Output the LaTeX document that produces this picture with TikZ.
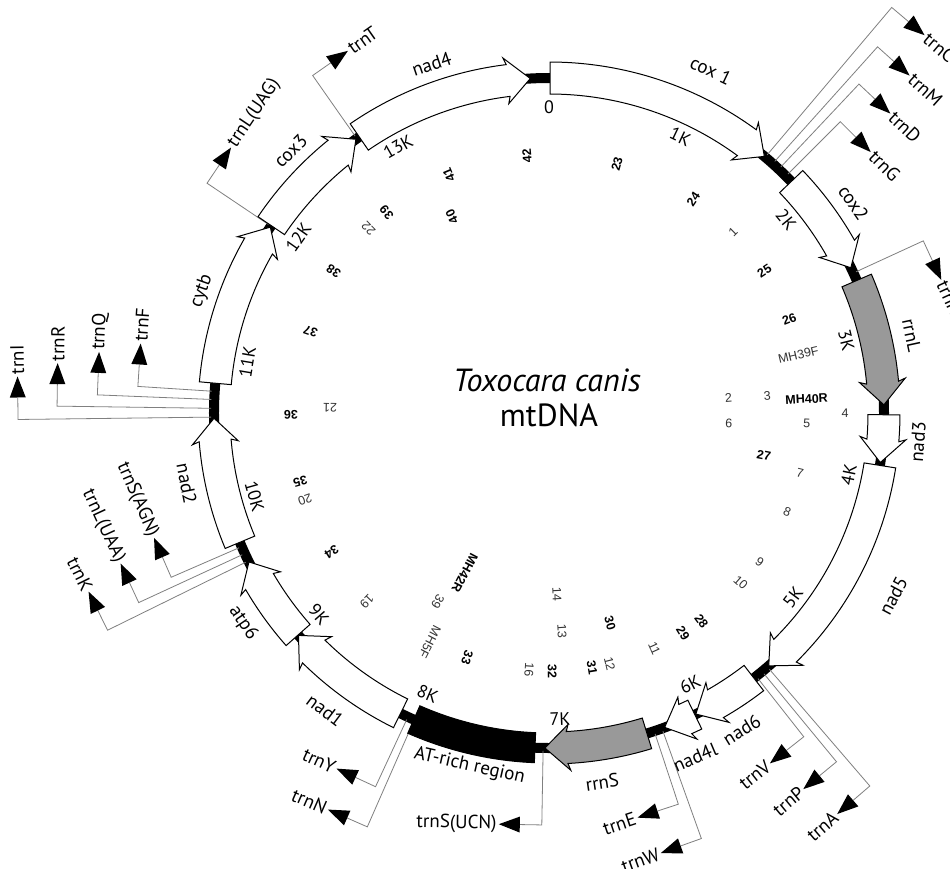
\documentclass[tikz,border=0pt]{standalone}
\usepackage{fontspec}
\setmainfont{PT Sans}
\newfontfamily\numfont{Liberation Sans}
\usetikzlibrary{calc}

\tikzset{
  genebox/.style={draw=black, line width=1pt, fill=white, line join=miter},
  rrnabox/.style={genebox, fill=gray!80},
  atbox/.style={draw=black, line width=1pt, fill=black},
  trnaline/.style={draw=black!50, line width=0.8pt},
  genelab/.style={font=\fontsize{19}{21}\selectfont, inner sep=0pt},
  klab/.style={font=\fontsize{18}{20}\selectfont, inner sep=0pt},
  numreg/.style={font=\numfont\fontsize{12.5}{14}\selectfont, inner sep=0pt, text=black!80},
  numbold/.style={font=\numfont\bfseries\fontsize{12.5}{14}\selectfont, inner sep=0pt},
  titlelab/.style={font=\fontsize{32}{36}\selectfont, inner sep=0pt},
}

% gene arrow: name, theta start, theta end, style
\newcommand{\gene}[4]{%
  \pgfmathsetmacro{\gps}{90-#2}%
  \pgfmathsetmacro{\gpe}{90-#3}%
  \pgfmathsetmacro{\gph}{\gpe+3.8}%
  \draw[#4] (\gps:351) coordinate (#1-s)
     arc[start angle=\gps, end angle=\gph, radius=351]
     -- ({\gph+0.4}:358) -- (\gpe:335) coordinate (#1-e)
     -- ({\gph+0.4}:312) -- (\gph:319)
     arc[start angle=\gph, end angle=\gps, radius=319] -- cycle;
}
% plain block: name, theta start, theta end, style
\newcommand{\block}[4]{%
  \pgfmathsetmacro{\gps}{90-#2}%
  \pgfmathsetmacro{\gpe}{90-#3}%
  \draw[#4] (\gps:350) coordinate (#1-s)
     arc[start angle=\gps, end angle=\gpe, radius=350]
     -- (\gpe:320) coordinate (#1-e)
     arc[start angle=\gpe, end angle=\gps, radius=320] -- cycle;
}
% tRNA marker: name, theta, radius, label
\newcommand{\trna}[4]{%
  \pgfmathsetmacro{\tph}{90-#2}%
  \pgfmathsetmacro{\tdir}{\tph-90}%
  \pgfmathsetmacro{\trot}{mod(\tph+630,360)}%
  \pgfmathtruncatemacro{\tflip}{and(\trot>91,\trot<269) ? 1 : 0}%
  \pgfmathsetmacro{\trotf}{\tflip==1 ? \trot-180 : \trot}%
  \coordinate (#1-a) at (\tph:338);
  \coordinate (#1-c) at (\tph:#3);
  \coordinate (#1-b) at ($(#1-c)+(\tdir:22)$);
  \coordinate (#1-t) at ($(#1-c)+(\tdir:43)$);
  \draw[trnaline] (#1-a) -- (#1-c) -- (#1-b);
  \fill[black] ($(#1-b)+(\tph:8)$) -- ($(#1-b)+(\tph:-8)$) -- (#1-t) -- cycle;
  \ifnum\tflip=1
    \node[genelab, anchor=east, rotate=\trotf] (#1) at ($(#1-t)+(\tdir:2)$) {#4};
  \else
    \node[genelab, anchor=west, rotate=\trotf] (#1) at ($(#1-t)+(\tdir:2)$) {#4};
  \fi
}
% tangential label: name, theta, radius, text, style
\newcommand{\glab}[5]{%
  \pgfmathsetmacro{\lph}{90-#2}%
  \pgfmathsetmacro{\lrot}{mod(\lph+630,360)}%
  \pgfmathsetmacro{\lrotf}{and(\lrot>91,\lrot<269) ? \lrot-180 : \lrot}%
  \node[#5, rotate=\lrotf] (#1) at (\lph:#3) {#4};
}
% radial label: name, theta, radius, text, style
\newcommand{\nlab}[5]{%
  \pgfmathsetmacro{\nph}{90-#2}%
  \node[#5, rotate=\nph] (#1) at (\nph:#3) {#4};
}

\begin{document}
\begin{tikzpicture}[x=1pt,y=1pt]
\useasboundingbox[fill=white] (-549,-455) rectangle (401,413);

% backbone
\draw[line width=10pt, black] (0,0) circle[radius=335];

% tRNA markers (drawn first, under genes)
\trna{trnC}{40.2}{531}{trnC}
\trna{trnM}{41.9}{492}{trnM}
\trna{trnD}{43.3}{452}{trnD}
\trna{trnG}{45.0}{412}{trnG}
\trna{trnH}{65.3}{412}{trnH}
\trna{trnA}{139.3}{492}{trnA}
\trna{trnP}{140.5}{452}{trnP}
\trna{trnV}{141.8}{412}{trnV}
\trna{trnW}{160.3}{452}{trnW}
\trna{trnE}{161.7}{412}{trnE}
\trna{trnSUCN}{181.0}{412}{trnS(UCN)}
\trna{trnN}{203.7}{452}{trnN}
\trna{trnY}{204.9}{412}{trnY}
\trna{trnK}{243.8}{492}{trnK}
\trna{trnLUAA}{245.2}{452}{trnL(UAA)}
\trna{trnSAGN}{246.5}{412}{trnS(AGN)}
\trna{trnI}{269.3}{531}{trnI}
\trna{trnR}{270.8}{492}{trnR}
\trna{trnQ}{272.3}{452}{trnQ}
\trna{trnF}{273.7}{412}{trnF}
\trna{trnLUAG}{303.9}{412}{trnL(UAG)}
\trna{trnT}{325.0}{412}{trnT}

% genes
\gene{cox1}{0.2}{40.0}{genebox}
\gene{cox2}{46.3}{64.3}{genebox}
\gene{rrnL}{66.7}{88.6}{rrnabox}
\gene{nad3}{90.3}{98.5}{genebox}
\gene{nad5}{99.0}{139.0}{genebox}
\gene{nad4L}{154.2}{159.8}{genebox}
\gene{nad6}{142.3}{154.0}{genebox}
\gene{rrnS}{163.0}{180.7}{rrnabox}
\block{AT}{182.4}{203.8}{atbox}
\gene{nad1}{206.3}{228.4}{genebox}
\gene{atp6}{228.5}{243.6}{genebox}
\gene{nad2}{247.3}{269.1}{genebox}
\gene{cytb}{275.1}{303.7}{genebox}
\gene{cox3}{304.0}{324.8}{genebox}
\gene{nad4}{325.5}{356.8}{genebox}

% gene labels
\glab{Lcox1}{25.3}{379}{cox 1}{genelab}
\glab{Lcox2}{55.4}{370}{cox2}{genelab}
\glab{LrrnL}{77.9}{371}{rrnL}{genelab}
\glab{Lnad3}{94.5}{370}{nad3}{genelab}
\glab{Lnad5}{118.0}{390}{nad5}{genelab}
\glab{Lnad6}{148.7}{371}{nad6}{genelab}
\glab{Lnad4L}{157.0}{374}{nad4l}{genelab}
\glab{LrrnS}{171.8}{373}{rrnS}{genelab}
\glab{LAT}{192.7}{362}{AT-rich region}{genelab}
\glab{Lnad1}{217.0}{372}{nad1}{genelab}
\glab{Latp6}{235.5}{371}{atp6}{genelab}
\glab{Lnad2}{259.0}{369}{nad2}{genelab}
\glab{Lcytb}{289.4}{368}{cytb}{genelab}
\glab{Lcox3}{315.4}{368}{cox3}{genelab}
\glab{Lnad4}{341.4}{368}{nad4}{genelab}

% kilobase labels
\foreach \k/\t in {0/0,1/1K,2/2K,3/3K,4/4K,5/5K,6/6K,7/7K,8/8K,9/9K,10/10K,11/11K,12/12K,13/13K}{
  \pgfmathsetmacro{\kth}{\k*25.42}
  \glab{k\k}{\kth}{306}{\t}{klab}
}

% primer / fragment labels
\nlab{n42}{355.1}{258}{42}{numbold}
\nlab{n41}{337.2}{258}{41}{numbold}
\nlab{n23}{15.3}{258}{23}{numbold}
\nlab{n40}{333.7}{219}{40}{numbold}
\nlab{n39a}{321.0}{258}{39}{numbold}
\nlab{n22}{315.6}{258}{22}{numreg}
\nlab{n38}{303.4}{258}{38}{numbold}
\nlab{n37}{288.9}{252}{37}{numbold}
\nlab{n36}{269.6}{258}{36}{numbold}
\nlab{n21}{271.3}{219}{21}{numreg}
\nlab{n35}{254.5}{258}{35}{numbold}
\nlab{n20}{250.4}{259}{20}{numreg}
\nlab{n34}{237.4}{258}{34}{numbold}
\nlab{n19}{224.0}{262}{19}{numreg}
\nlab{n39b}{210.5}{219}{39}{numreg}
\nlab{nMH42R}{207.7}{181}{MH42R}{numbold}
\nlab{nMH5F}{207.5}{258}{MH5F}{numreg}
\nlab{n33}{198.5}{258}{33}{numbold}
\nlab{n14}{177.5}{181}{14}{numreg}
\nlab{n13}{176.6}{219}{13}{numreg}
\nlab{n16}{184.4}{258}{16}{numreg}
\nlab{n32}{179.3}{258}{32}{numbold}
\nlab{n30}{163.8}{219}{30}{numbold}
\nlab{n31}{170.4}{258}{31}{numbold}
\nlab{n12}{166.4}{258}{12}{numreg}
\nlab{n11}{155.9}{258}{11}{numreg}
\nlab{n29}{148.7}{258}{29}{numbold}
\nlab{n28}{143.8}{258}{28}{numbold}
\nlab{n10}{131.5}{256}{10}{numreg}
\nlab{n9}{125.2}{258}{9}{numreg}
\nlab{n8}{112.6}{258}{8}{numreg}
\nlab{n7}{103.4}{258}{7}{numreg}
\nlab{n27}{101.1}{219}{27}{numbold}
\nlab{n5}{92.4}{258}{5}{numreg}
\nlab{n4}{90.0}{296}{4}{numreg}
\nlab{n6}{93.2}{180}{6}{numreg}
\nlab{n2}{85.2}{180}{2}{numreg}
\nlab{n3}{85.5}{219}{3}{numreg}
\nlab{nMH40R}{86.9}{258}{MH40R}{numbold}
\nlab{nMH39F}{76.9}{256}{MH39F}{numreg}
\nlab{n26}{68.7}{258}{26}{numbold}
\nlab{n25}{56.6}{258}{25}{numbold}
\nlab{n1}{45.5}{258}{1}{numreg}
\nlab{n24}{34.0}{258}{24}{numbold}

% title
\node[titlelab, font=\fontsize{32}{36}\selectfont\itshape] (title) at (-2,33) {Toxocara canis};
\node[titlelab] (mtdna) at (0,-2) {mtDNA};
\end{tikzpicture}
\end{document}
